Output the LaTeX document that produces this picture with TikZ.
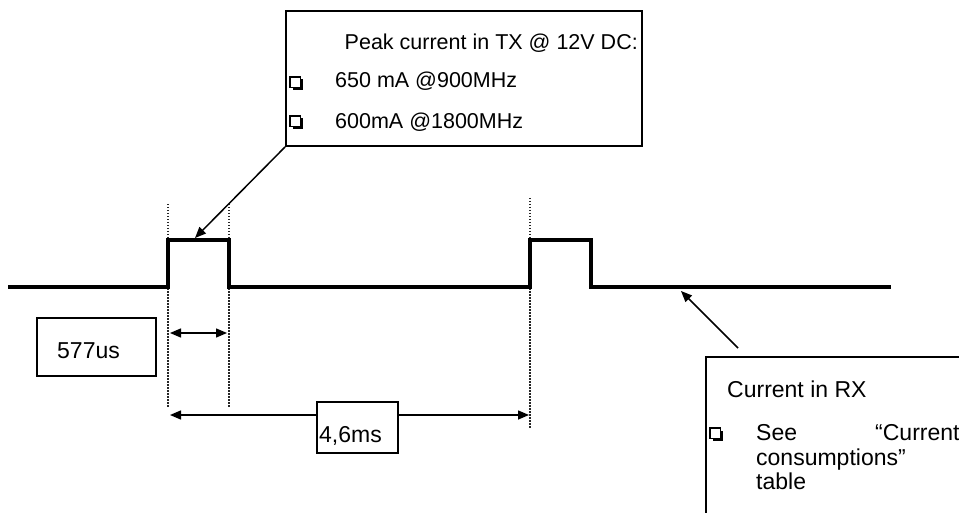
\documentclass[tikz,border=0pt]{standalone}
\usepackage{fontspec}
\setmainfont{Liberation Sans}
\usetikzlibrary{arrows.meta}
\begin{document}
\begin{tikzpicture}[x=1pt,y=-1pt,
  txt/.style={font=\fontsize{21.5}{25}\selectfont, inner sep=0pt, anchor=base west},
  txtr/.style={txt, anchor=base east},
  bigtxt/.style={font=\fontsize{23}{27}\selectfont, inner sep=0pt, anchor=base west},
  box/.style={draw, line width=1.8pt, fill=white, inner sep=0pt, rectangle},
  wave/.style={line width=3.3pt, line join=miter},
  guide/.style={line width=1.2pt, dash pattern=on 1.5pt off 1.5pt, black!85},
  arr/.style={line width=1.5pt, -{Triangle[length=11pt,width=9pt]}},
  darr/.style={line width=1.5pt, {Triangle[length=11pt,width=9pt]}-{Triangle[length=11pt,width=9pt]}},
  chkbox/.pic={\fill (2.5,2.5) rectangle (13,13);
               \draw[fill=white,line width=1.2pt] (0,0) rectangle (10.5,10.5);}
]
\useasboundingbox (0,0) rectangle (959,513);
\clip (0,0) rectangle (959,513);

% guide lines
\draw[guide] (168,204) -- (168,408);
\draw[guide] (229,204) -- (229,408);
\draw[guide] (530,198) -- (530,428);

% waveform
\draw[wave] (8,287) -- (168,287) -- (168,240) -- (229,240) -- (229,287)
  -- (530,287) -- (530,240) -- (591,240) -- (591,287) -- (891,287);

% top box
\node[box, minimum width=356pt, minimum height=135pt] (tx) at (464,78.5) {};
\node[txtr] (tx1) at (638,50) {Peak current in TX @ 12V DC:};
\pic at (290,77) {chkbox};
\node[txt] (tx2) at (335,88) {650 mA @900MHz};
\pic at (290,116) {chkbox};
\node[txt] (tx3) at (335,129) {600mA @1800MHz};
\coordinate (txtip) at (195,238);
\draw[arr] (tx.south west) -- (txtip);

% 577us
\node[box, minimum width=119pt, minimum height=58pt] (us) at (96.5,347) {};
\node[bigtxt] (ustxt) at (57,358) {577us};
\coordinate (usl) at (170,333);
\coordinate (usr) at (227,333);
\draw[darr] (usl) -- (usr);

% 4,6ms
\coordinate (msl) at (170,415);
\coordinate (msr) at (529,415);
\draw[darr] (msl) -- (msr);
\node[box, minimum width=81pt, minimum height=51pt] (ms) at (357.5,427.5) {};
\node[bigtxt] (mstxt) at (319,442) {4,6ms};

% RX box
\node[box, minimum width=280pt, minimum height=180pt] (rx) at (846,447) {};
\node[bigtxt] (rx1) at (727,397) {Current in RX};
\pic at (710,428) {chkbox};
\node[bigtxt] (rx2) at (756,440) {See};
\node[bigtxt] (rx3) at (875,440) {“Current};
\node[bigtxt] (rx4) at (756,465) {consumptions”};
\node[bigtxt] (rx5) at (756,489) {table};
\coordinate (rxtail) at (738,348);
\coordinate (rxtip) at (681,291);
\draw[arr] (rxtail) -- (rxtip);
\end{tikzpicture}
\end{document}
